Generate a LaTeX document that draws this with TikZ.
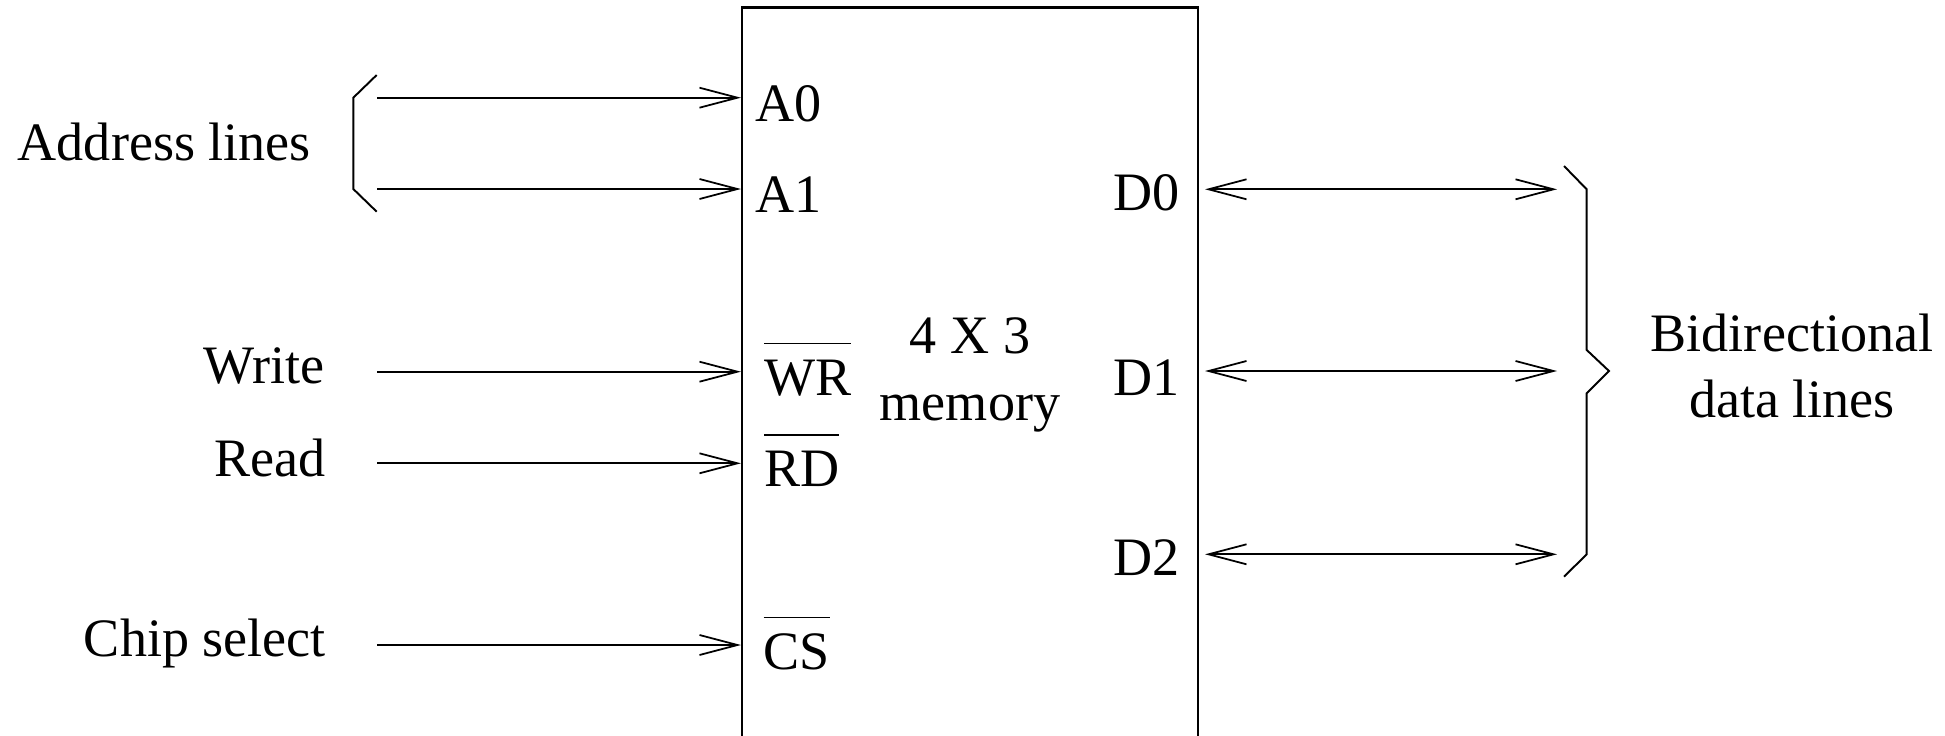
\documentclass[tikz,border=0pt]{standalone}
\usepackage{fontspec}
\setmainfont{Liberation Serif}
\usetikzlibrary{arrows.meta}

\tikzset{
  lbl/.style={font=\fontsize{15.4}{19}\selectfont, inner sep=0pt},
  sig/.style={line width=0.5pt, -{Straight Barb[length=3.8mm,width=2mm]}},
  bus/.style={line width=0.5pt, {Straight Barb[length=3.8mm,width=2mm]}-{Straight Barb[length=3.8mm,width=2mm]}},
  brace/.style={line width=0.55pt, line join=miter},
}
\newcommand{\actlow}[1]{$\overline{\rule{0pt}{13.3pt}\mbox{#1}}$}

\begin{document}
\begin{tikzpicture}[x=1cm, y=1cm]
  \useasboundingbox (0,0) rectangle (19.45,7.35);

  % Memory chip (bottom edge runs off the page)
  \node[draw, line width=0.6pt, minimum width=4.56cm, minimum height=7.35cm, inner sep=0pt,
        align=center, font=\fontsize{15.4}{19}\selectfont] (mem) at (9.70,3.60) {4 X 3\\memory};

  % Pin labels, left side
  \node[lbl, anchor=base west] (A0) at (7.55,6.133) {A0};
  \node[lbl, anchor=base west] (A1) at (7.55,5.223) {A1};
  \node[lbl, anchor=base west] (WR) at (7.633,3.40) {\actlow{WR}};
  \node[lbl, anchor=base west] (RD) at (7.633,2.483) {\actlow{RD}};
  \node[lbl, anchor=base west] (CS) at (7.63,0.657) {\actlow{CS}};

  % Pin labels, right side
  \node[lbl, anchor=base east] (D0) at (11.80,5.25) {D0};
  \node[lbl, anchor=base east] (D1) at (11.80,3.40) {D1};
  \node[lbl, anchor=base east] (D2) at (11.80,1.60) {D2};

  % Signal names
  \node[lbl, anchor=base east] (addr) at (3.117,5.75) {Address lines};
  \node[lbl, anchor=base east] (write) at (3.25,3.517) {Write};
  \node[lbl, anchor=base east] (read) at (3.267,2.59) {Read};
  \node[lbl, anchor=base east] (chip) at (3.267,0.783) {Chip select};
  \node[lbl, align=center] (data) at (17.92,3.69) {Bidirectional\\data lines};

  % Inputs into the chip
  \foreach \y/\n in {6.373/A0, 5.46/A1, 3.633/WR, 2.717/RD, 0.90/CS} {
    \coordinate (in\n) at (3.77,\y);
    \draw[sig] (in\n) -- (in\n -| mem.west);
  }

  % Data lines, both ways
  \foreach \y/\n in {5.457/D0, 3.64/D1, 1.807/D2} {
    \coordinate (out\n) at (15.57,\y);
    \draw[bus] ([xshift=0.6mm]mem.east |- out\n) -- (out\n);
  }

  % Braces
  \draw[brace] (3.767,6.60) -- (3.533,6.373) -- (3.533,5.46) -- (3.767,5.233);
  \draw[brace] (15.64,5.69) -- (15.867,5.457) -- (15.867,3.85) -- (16.09,3.64)
    -- (15.867,3.417) -- (15.867,1.807) -- (15.64,1.583);

\end{tikzpicture}
\end{document}
